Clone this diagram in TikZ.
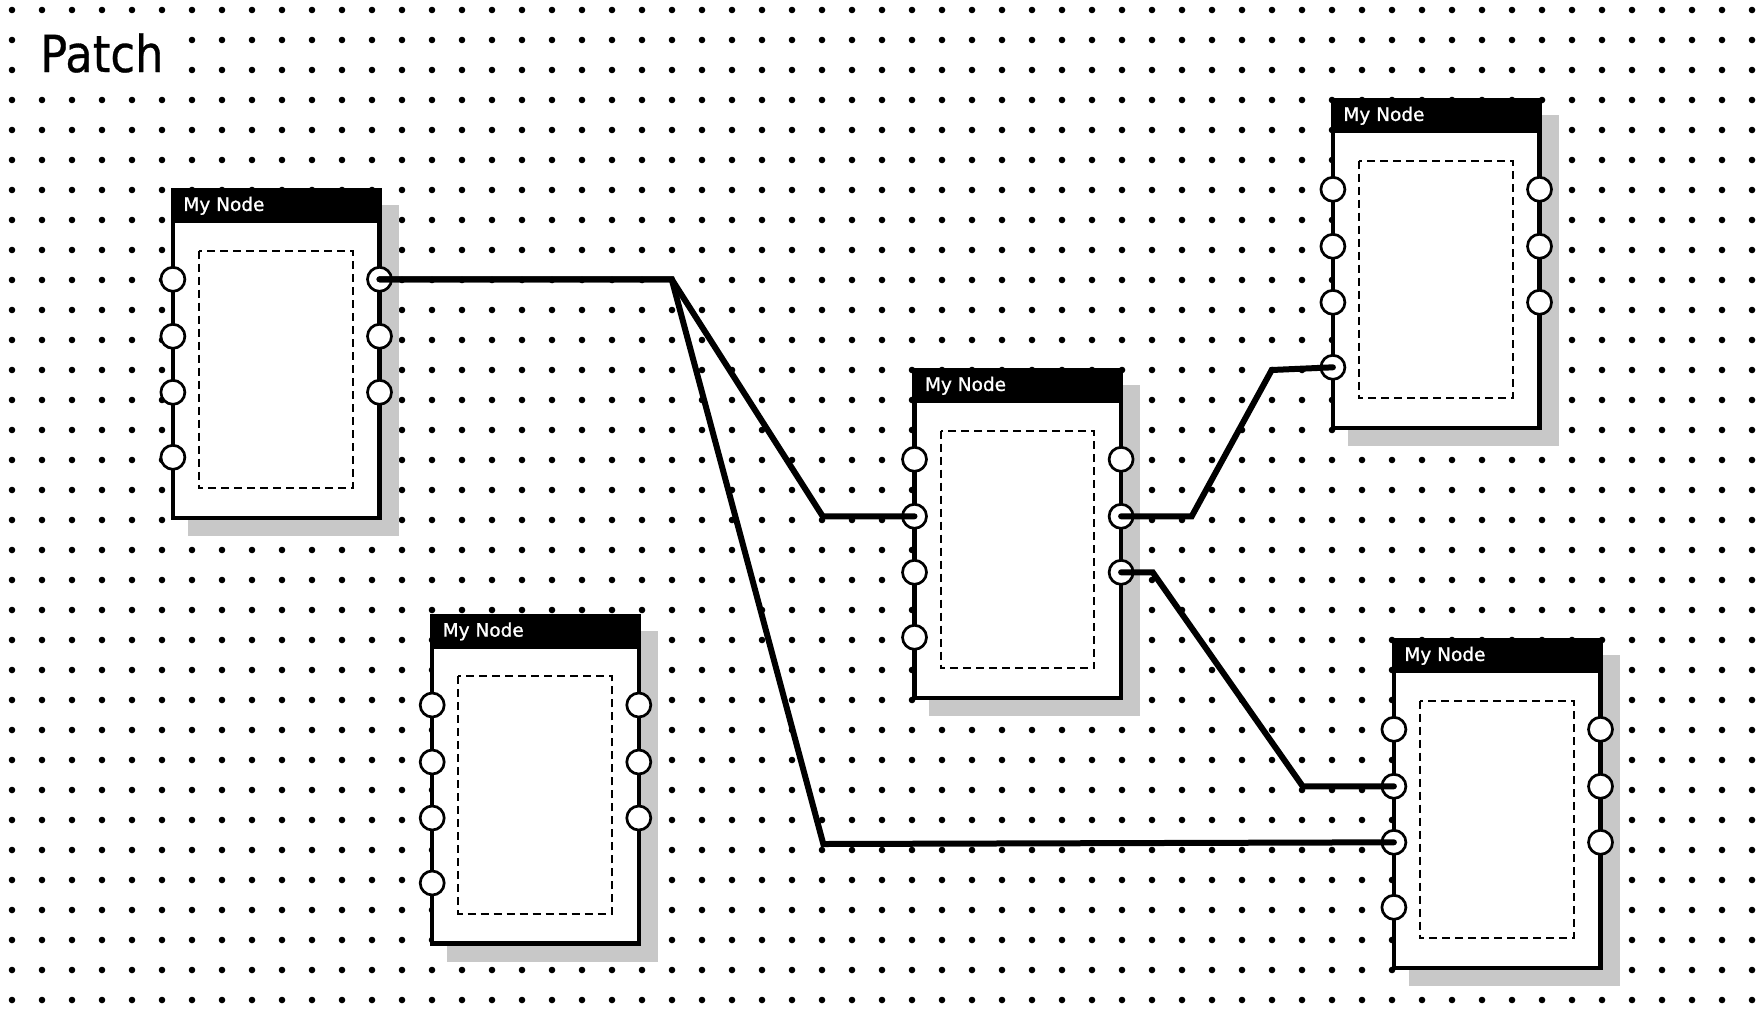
\documentclass[tikz,border=0pt]{standalone}
\usepackage{fontspec}
\usepackage{graphicx}
\newfontfamily\djv[FakeBold=1.2]{DejaVu Sans}
\newfontfamily\djvt[FakeBold=0.6]{DejaVu Sans}
\definecolor{shadowc}{RGB}{200,200,200}
\tikzset{
  portc/.style={circle, draw=black, fill=white, line width=2.7pt, minimum size=24pt, inner sep=0pt},
  wire/.style={line width=6pt, line cap=round, line join=miter},
  hdrtext/.style={text=white, font=\djv\fontsize{18.5}{22}\selectfont, inner sep=0pt, anchor=base west},
  bodybox/.style={fill=white, draw=black, line width=4.4pt},
  innerdash/.style={draw=black, line width=1.9pt, dash pattern=on 8pt off 5pt},
  titletext/.style={inner sep=0pt, anchor=base west, font=\djvt\fontsize{51}{60}\selectfont},
}
\newcommand\patchnode[3]{%
 \begin{scope}[shift={(#2,#3)}]
  \fill[shadowc] (17,17) rectangle (228,348);
  \filldraw[bodybox] (2.2,2.2) rectangle (208.8,329.4);
  \fill[black] (0,0) rectangle (211,35);
  \node[hdrtext] (#1-label) at (12.5,22.6) {My Node};
  \draw[innerdash] (28.3,62.4) rectangle (182,300);
  \node[portc] (#1-i1) at (2.2,91) {};
  \node[portc] (#1-i2) at (2.2,148) {};
  \node[portc] (#1-i3) at (2.2,204) {};
  \node[portc] (#1-i4) at (2.2,269) {};
  \node[portc] (#1-o1) at (208.8,91) {};
  \node[portc] (#1-o2) at (208.8,148) {};
  \node[portc] (#1-o3) at (208.8,204) {};
 \end{scope}}
\begin{document}
\begin{tikzpicture}[x=1pt,y=-1pt]
\useasboundingbox (0,0) rectangle (1760,1010);
\fill[white] (0,0) rectangle (1760,1010);
% dot grid
\fill[black] \foreach \i in {0,...,58}{\foreach \j in {0,...,33}{(12+30*\i,10+30*\j) circle[radius=3.3pt]}};
% title
\fill[white] (25,25) rectangle (180,85);
\node[titletext] (title) at (40,72) {\scalebox{0.88}[1]{Patch}};
% nodes
\patchnode{n1}{170.7}{188.3}
\patchnode{n2}{1330.7}{98.3}
\patchnode{n3}{912.3}{368.3}
\patchnode{n4}{430}{614}
\patchnode{n5}{1391.7}{638.3}
% bend points
\coordinate (b1) at (671.7,279.3);
\coordinate (b2) at (822.7,516.3);
\coordinate (b3) at (823.3,844);
\coordinate (c1) at (1191.7,516.3);
\coordinate (c2) at (1271.7,370);
\coordinate (d1) at (1152.7,572.3);
\coordinate (d2) at (1302.7,786.3);
% connectors
\draw[wire] (n1-o1.center) -- (b1) -- (b2) -- (n3-i2.center);
\draw[wire] (n1-o1.center) -- (b1) -- (b3) -- (n5-i3.center);
\draw[wire] (n3-o2.center) -- (c1) -- (c2) -- (n2-i4.center);
\draw[wire] (n3-o3.center) -- (d1) -- (d2) -- (n5-i2.center);
\end{tikzpicture}
\end{document}
